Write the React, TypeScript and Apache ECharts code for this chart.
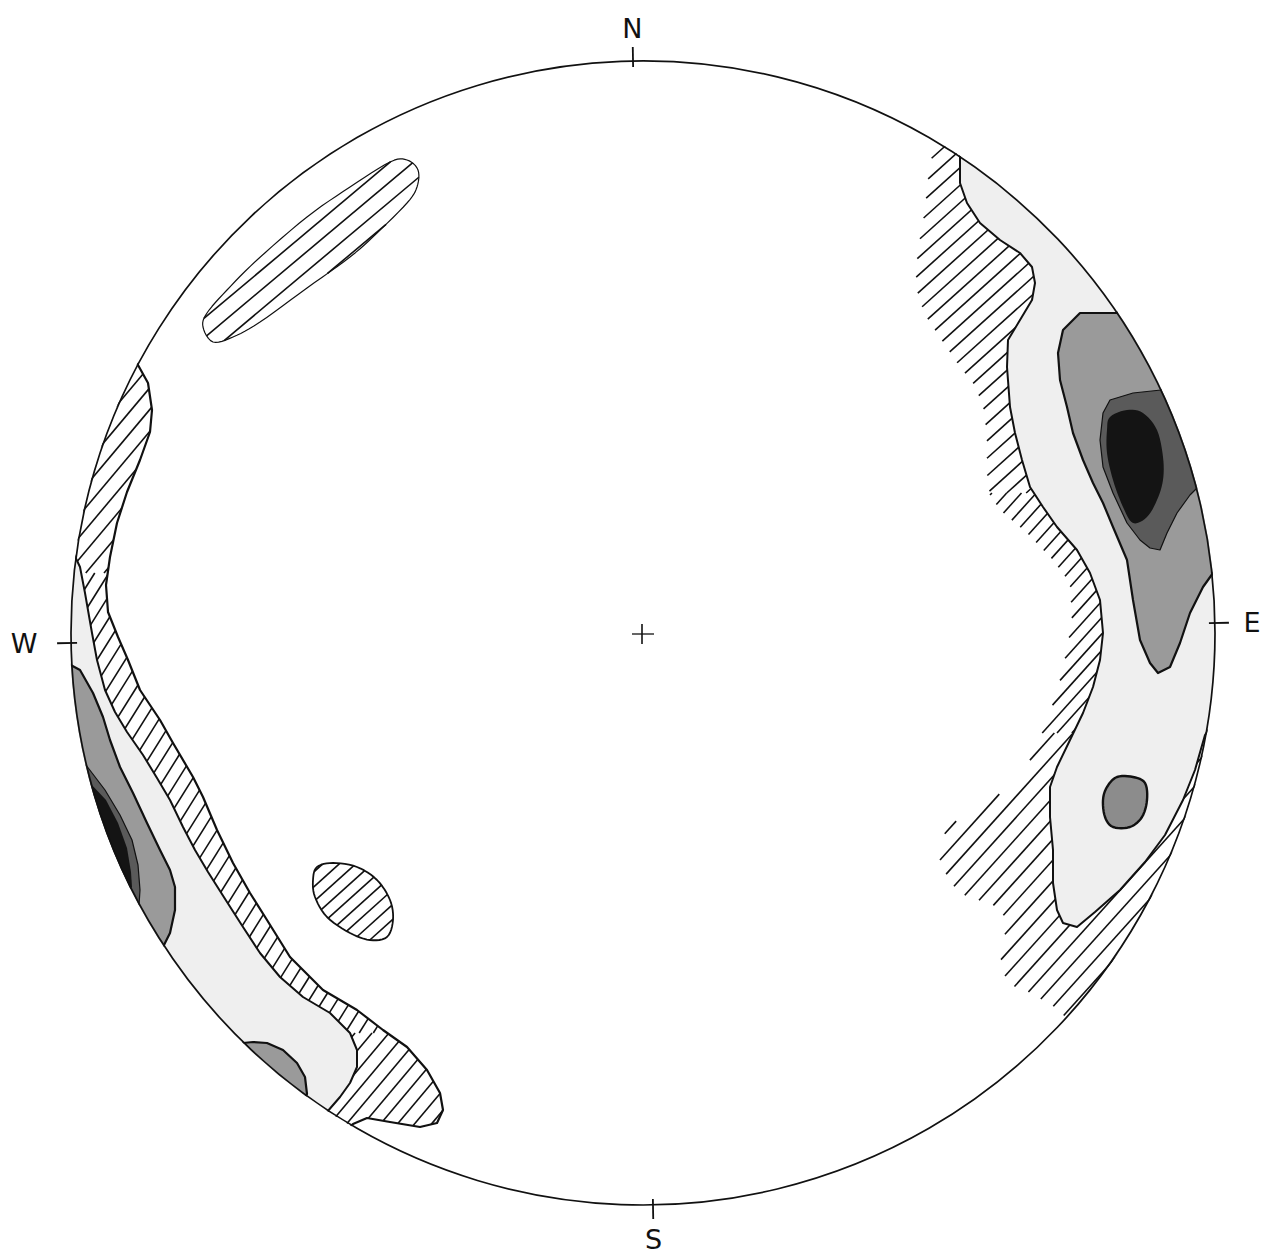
import React, { useEffect, useRef } from "react";
import * as echarts from "echarts";

// Net coordinates: origin at the centre of the net, y up, net radius = 572 units.
const NET_RADIUS = 572;
const NET_ROTATION_DEG = 1.0; // the drawing is turned slightly anticlockwise
const cardinalLabels = ["N", "E", "S", "W"];
const cardinalBearings = [0, 90, 180, 270];
const netCenter = [[0, 0]];

// ---- contour level 1 (hatched) ----
const nwCapsuleL1 = [
  [-440, 306], [-430, 291], [-410, 296], [-383, 311], [-336, 345], [-293, 376],
  [-266, 400], [-236, 430], [-226, 446], [-225, 463], [-236, 473], [-253, 471],
  [-293, 446], [-336, 416], [-386, 373], [-416, 343], [-436, 320],
];
const swEllipseL1 = [
  [-326, -234], [-310, -230], [-286, -234], [-266, -247], [-253, -267], [-250, -287],
  [-256, -304], [-273, -307], [-293, -300], [-316, -284], [-328, -264], [-330, -247],
];
const westBandL1 = [
  [-505, 268], [-495, 250], [-491, 223], [-493, 201], [-503, 173], [-516, 141],
  [-526, 110], [-533, 76], [-537, 48], [-535, 21], [-525, -4], [-515, -27],
  [-503, -57], [-483, -87], [-470, -110], [-450, -144], [-440, -164], [-426, -197],
  [-410, -230], [-393, -260], [-376, -287], [-353, -324], [-320, -357], [-286, -377],
  [-260, -397], [-236, -414], [-216, -437], [-203, -460], [-200, -477], [-206, -490],
  [-223, -494], [-253, -489], [-276, -485], [-290, -491], [-297, -497],
  [-303, -527], [-493, -367], [-623, -117], [-623, 133], [-533, 303],
];
const eastL1 = [
  [292, 491], [290, 483], [285, 453], [282, 423], [275, 383], [273, 358],
  [275, 338], [282, 318], [302, 288], [317, 266], [330, 250], [340, 228],
  [344, 198], [344, 160], [347, 138], [357, 123], [384, 100], [410, 73],
  [427, 50], [429, 16], [425, -12], [420, -35], [414, -60], [404, -87],
  [384, -134], [367, -154], [337, -174], [310, -190], [297, -207], [297, -227],
  [307, -250], [324, -264], [342, -269], [357, -275], [364, -290], [360, -312],
  [357, -334], [367, -352], [382, -357], [417, -377],
  [437, -407], [607, -167], [617, 183], [357, 573], [297, 513],
];

// ---- contour level 2 (stippled) ----
const westL2 = [
  [-571, 83], [-563, 66], [-558, 40], [-551, 0], [-546, -27], [-538, -57],
  [-528, -79], [-516, -99], [-500, -122], [-486, -145], [-473, -167], [-460, -194],
  [-448, -217], [-435, -239], [-416, -269], [-400, -294], [-383, -320], [-363, -344],
  [-340, -364], [-313, -380], [-293, -400], [-286, -417], [-286, -434], [-293, -450],
  [-303, -464], [-316, -479],
  [-323, -517], [-513, -357], [-623, -127], [-618, 73],
];
const eastL2 = [
  [317, 475], [317, 450], [324, 430], [337, 410], [357, 393], [377, 380],
  [389, 366], [392, 350], [389, 333], [377, 313], [365, 293], [364, 266],
  [367, 226], [372, 200], [379, 173], [387, 146], [400, 126], [414, 106],
  [434, 83], [447, 60], [457, 33], [460, 0], [457, -27], [450, -54],
  [440, -80], [427, -107], [414, -134], [407, -154], [407, -184], [410, -217],
  [410, -250], [414, -277], [420, -290], [434, -294], [452, -279], [477, -257],
  [502, -229], [522, -202], [540, -167], [552, -137], [562, -102],
  [617, -17], [607, 283], [357, 523], [317, 493],
];

// ---- contour level 3 (grey) ----
const westL3 = [
  [-576, -30], [-563, -37], [-550, -60], [-540, -84], [-533, -107], [-523, -134],
  [-510, -160], [-496, -190], [-483, -217], [-473, -237], [-468, -254], [-468, -277],
  [-473, -300], [-480, -314],
  [-523, -347], [-623, -167], [-623, -27],
];
const swBlobL3 = [
  [-400, -410], [-390, -409], [-376, -410], [-360, -417], [-346, -430], [-338, -444],
  [-336, -461], [-363, -497], [-423, -427],
];
const eastL3 = [
  [474, 320], [437, 320], [420, 303], [415, 280], [417, 253], [424, 226],
  [430, 200], [440, 173], [450, 150], [460, 130], [470, 106], [484, 73],
  [490, 33], [497, -7], [507, -30], [515, -40], [527, -34], [537, -10],
  [547, 20], [560, 46], [570, 60],
  [617, 133], [497, 353],
];
const eastBlobL3 = [
  [464, -154], [474, -144], [490, -144], [502, -150], [504, -167], [499, -184],
  [487, -194], [470, -194], [462, -184], [460, -167],
];

// ---- contour level 4 (dark grey) ----
const westL4 = [
  [-557, -132], [-538, -157], [-523, -182], [-511, -207], [-505, -232], [-503, -257],
  [-504, -272], [-543, -307], [-603, -147],
];
const eastL4 = [
  [518, 243], [490, 240], [467, 233], [460, 220], [457, 193], [460, 166],
  [470, 140], [484, 110], [497, 93], [507, 85], [517, 83], [524, 100],
  [534, 120], [547, 138], [555, 146], [587, 213], [537, 273],
];

// ---- contour level 5 (black) ----
const westL5 = [
  [-553, -150], [-537, -167], [-525, -190], [-516, -215], [-512, -239], [-511, -254],
  [-553, -297], [-603, -157],
];
const eastL5 = [
  [467, 216], [484, 223], [500, 220], [514, 203], [520, 176], [520, 153],
  [514, 133], [504, 116], [490, 110], [480, 126], [470, 153], [464, 180], [464, 203],
];

type Zone = { angle: number; spacing: number; yLow?: number; yHigh?: number };
type Region = {
  pts: number[][];
  fill?: string;
  hatch?: Zone[];
  outline?: number;
  smooth?: boolean;
};

const regions: Region[] = [
  { pts: nwCapsuleL1, hatch: [{ angle: 40, spacing: 15 }], outline: 1.2, smooth: true },
  { pts: swEllipseL1, hatch: [{ angle: 42, spacing: 11 }], outline: 1.8, smooth: true },
  {
    pts: westBandL1,
    hatch: [
      { angle: 50, spacing: 14, yLow: 60 },
      { angle: 58, spacing: 12, yLow: -400, yHigh: 60 },
      { angle: 50, spacing: 13, yHigh: -400 },
    ],
    outline: 2.2,
  },
  {
    pts: eastL1,
    hatch: [
      { angle: 42, spacing: 13, yLow: 140 },
      { angle: 48, spacing: 11, yLow: -100, yHigh: 140 },
      { angle: 48, spacing: 14, yHigh: -100 },
    ],
  },
  { pts: westL2, fill: "#efefef", outline: 2.0 },
  { pts: eastL2, fill: "#efefef", outline: 2.0 },
  { pts: westL3, fill: "#9a9a9a", outline: 2.2 },
  { pts: swBlobL3, fill: "#9a9a9a", outline: 2.2 },
  { pts: eastL3, fill: "#9a9a9a", outline: 2.2 },
  { pts: eastBlobL3, fill: "#8c8c8c", outline: 2.4, smooth: true },
  { pts: westL4, fill: "#5a5a5a", outline: 1.2 },
  { pts: eastL4, fill: "#5a5a5a", outline: 1.2 },
  { pts: westL5, fill: "#141414" },
  { pts: eastL5, fill: "#141414", smooth: true },
];

// closed Catmull-Rom resampling in pixel space
function smoothClosed(P: number[][], steps = 6) {
  const out: number[][] = [];
  const n = P.length;
  for (let i = 0; i < n; i++) {
    const p0 = P[(i - 1 + n) % n], p1 = P[i], p2 = P[(i + 1) % n], p3 = P[(i + 2) % n];
    for (let s = 0; s < steps; s++) {
      const t = s / steps, t2 = t * t, t3 = t2 * t;
      const f = (a: number, b: number, c: number, d: number) =>
        0.5 * (2 * b + (-a + c) * t + (2 * a - 5 * b + 4 * c - d) * t2 + (-a + 3 * b - 3 * c + d) * t3);
      out.push([f(p0[0], p1[0], p2[0], p3[0]), f(p0[1], p1[1], p2[1], p3[1])]);
    }
  }
  return out;
}

function clipSegY(a: number[], b: number[], yTop: number, yBot: number) {
  let t0 = 0, t1 = 1;
  const dy = b[1] - a[1];
  const lims: [number, number][] = [
    [-dy, a[1] - yTop],
    [dy, yBot - a[1]],
  ];
  for (const [p, q] of lims) {
    if (Math.abs(p) < 1e-9) {
      if (q < 0) return null;
    } else {
      const r = q / p;
      if (p < 0) { if (r > t1) return null; if (r > t0) t0 = r; }
      else { if (r < t0) return null; if (r < t1) t1 = r; }
    }
  }
  return [
    [a[0] + t0 * (b[0] - a[0]), a[1] + t0 * dy],
    [a[0] + t1 * (b[0] - a[0]), a[1] + t1 * dy],
  ];
}

function hatchSegments(P: number[][], angleDeg: number, spacing: number) {
  const a = (angleDeg * Math.PI) / 180;
  const d = [Math.cos(a), -Math.sin(a)];
  const n = [Math.sin(a), Math.cos(a)];
  const proj = P.map((p) => p[0] * n[0] + p[1] * n[1]);
  const lo = Math.min(...proj);
  const hi = Math.max(...proj);
  const segs: number[][][] = [];
  for (let c = Math.ceil(lo / spacing) * spacing; c <= hi; c += spacing) {
    const us: number[] = [];
    for (let i = 0; i < P.length; i++) {
      const j = (i + 1) % P.length;
      const v1 = proj[i] - c;
      const v2 = proj[j] - c;
      if (v1 < 0 !== v2 < 0) {
        const t = v1 / (v1 - v2);
        const x = P[i][0] + t * (P[j][0] - P[i][0]);
        const y = P[i][1] + t * (P[j][1] - P[i][1]);
        us.push(x * d[0] + y * d[1]);
      }
    }
    us.sort((u, v) => u - v);
    for (let k = 0; k + 1 < us.length; k += 2) {
      segs.push([
        [c * n[0] + us[k] * d[0], c * n[1] + us[k] * d[1]],
        [c * n[0] + us[k + 1] * d[0], c * n[1] + us[k + 1] * d[1]],
      ]);
    }
  }
  return segs;
}

function regionSeries(r: Region, z: number) {
  return {
    type: "custom",
    coordinateSystem: "cartesian2d",
    data: r.pts,
    z,
    silent: true,
    clip: false,
    renderItem: (params: any, api: any) => {
      if (params.dataIndex !== 0) return null;
      let P = r.pts.map((p) => api.coord(p));
      if (r.smooth) P = smoothClosed(P);
      const children: any[] = [];
      if (r.fill) {
        children.push({
          type: "polygon",
          shape: { points: P },
          style: { fill: r.fill, stroke: "none" },
        });
      }
      if (r.hatch) {
        for (const zone of r.hatch) {
          const yTop = zone.yHigh !== undefined ? api.coord([0, zone.yHigh])[1] : -1e6;
          const yBot = zone.yLow !== undefined ? api.coord([0, zone.yLow])[1] : 1e6;
          for (const s of hatchSegments(P, zone.angle, zone.spacing)) {
            const c = clipSegY(s[0], s[1], yTop, yBot);
            if (!c) continue;
            children.push({
              type: "line",
              shape: { x1: c[0][0], y1: c[0][1], x2: c[1][0], y2: c[1][1] },
              style: { stroke: "#111", lineWidth: 1.6 },
            });
          }
        }
      }
      if (r.outline) {
        children.push({
          type: "polygon",
          shape: { points: P },
          style: { fill: "none", stroke: "#111", lineWidth: r.outline, lineJoin: "round" },
        });
      }
      return { type: "group", children };
    },
  };
}

function frameSeries() {
  return {
    type: "custom",
    coordinateSystem: "cartesian2d",
    data: netCenter,
    z: 100,
    silent: true,
    clip: false,
    renderItem: (params: any, api: any) => {
      const c = api.coord([api.value(0), api.value(1)]);
      const r = api.size([NET_RADIUS, 0])[0];
      return {
        type: "group",
        children: [
          {
            type: "circle",
            shape: { cx: c[0], cy: c[1], r: r + 101 },
            style: { fill: "none", stroke: "#fff", lineWidth: 200 },
          },
          {
            type: "circle",
            shape: { cx: c[0], cy: c[1], r },
            style: { fill: "none", stroke: "#111", lineWidth: 1.7 },
          },
          {
            type: "line",
            shape: { x1: c[0] - 11, y1: c[1] + 1, x2: c[0] + 11, y2: c[1] + 1 },
            style: { stroke: "#111", lineWidth: 1.3 },
          },
          {
            type: "line",
            shape: { x1: c[0] - 1, y1: c[1] - 9, x2: c[0] - 1, y2: c[1] + 11 },
            style: { stroke: "#111", lineWidth: 1.6 },
          },
        ],
      };
    },
  };
}

const labelRadius = [605, 609, 607, 619];

function cardinalSeries() {
  return {
    type: "custom",
    coordinateSystem: "cartesian2d",
    data: cardinalBearings.map((b, i) => [b, i]),
    z: 110,
    silent: true,
    clip: false,
    encode: { x: -1, y: -1 },
    renderItem: (params: any, api: any) => {
      const bearing = api.value(0);
      const idx = api.value(1);
      const th = ((bearing - NET_ROTATION_DEG) * Math.PI) / 180;
      const sx = Math.sin(th);
      const sy = Math.cos(th);
      const p1 = api.coord([sx * (NET_RADIUS - 6), sy * (NET_RADIUS - 6)]);
      const p2 = api.coord([sx * (NET_RADIUS + 14), sy * (NET_RADIUS + 14)]);
      const lr = labelRadius[idx];
      const pl = api.coord([sx * lr, sy * lr]);
      return {
        type: "group",
        children: [
          {
            type: "line",
            shape: { x1: p1[0], y1: p1[1], x2: p2[0], y2: p2[1] },
            style: { stroke: "#111", lineWidth: 1.8 },
          },
          {
            type: "text",
            x: pl[0],
            y: pl[1],
            style: {
              text: cardinalLabels[idx],
              fill: "#111",
              fontSize: 27,
              fontFamily: "DejaVu Sans",
              fontWeight: "normal",
              align: "center",
              verticalAlign: "middle",
            },
          },
        ],
      };
    },
  };
}

export default function App() {
  const ref = useRef<HTMLDivElement>(null);
  useEffect(() => {
    if (!ref.current) return;
    const chart = echarts.init(ref.current, undefined, { renderer: "svg" });
    const option: any = {
      animation: false,
      backgroundColor: "#ffffff",
      grid: { left: 13, top: 13, width: 1240, height: 1230 },
      xAxis: { type: "value", min: -630, max: 610, show: false },
      yAxis: { type: "value", min: -610, max: 620, show: false },
      series: [
        ...regions.map((r, i) => regionSeries(r, 10 + i)),
        frameSeries(),
        cardinalSeries(),
      ],
    };
    chart.setOption(option);
    return () => chart.dispose();
  }, []);
  return (
    <div
      ref={ref}
      style={{ position: "absolute", left: 0, top: 0, width: 1261, height: 1258 }}
    />
  );
}
